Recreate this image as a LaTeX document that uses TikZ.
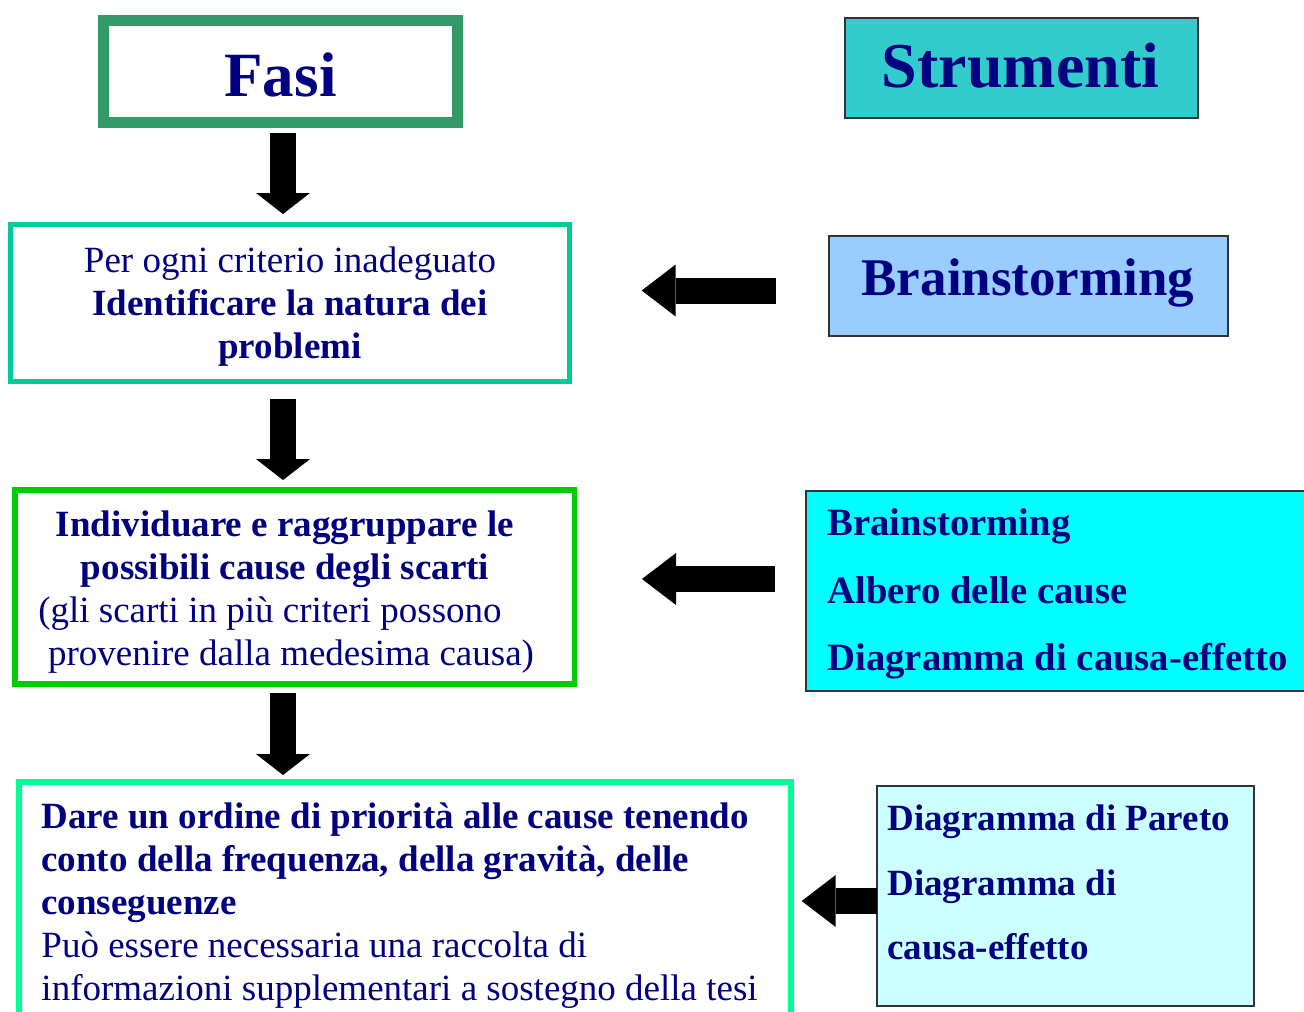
\documentclass[tikz,border=0pt]{standalone}
\usepackage{fontspec}
\setmainfont{Liberation Serif}
\usetikzlibrary{arrows.meta,calc}
\definecolor{navytext}{HTML}{000080}
\definecolor{fasigreen}{HTML}{339966}
\definecolor{critgreen}{HTML}{00CC99}
\definecolor{indivgreen}{HTML}{00CC00}
\definecolor{priogreen}{HTML}{00FF99}
\definecolor{strumfill}{HTML}{33CCCC}
\definecolor{brainfill}{HTML}{99CCFF}
\definecolor{toolsfill}{HTML}{00FFFF}
\definecolor{paretofill}{HTML}{CCFFFF}
\definecolor{thinborder}{HTML}{333333}
\newcommand\txtmed{\fontsize{37}{43}\selectfont}
\begin{document}
\begin{tikzpicture}[x=1pt,y=-1pt,
  box/.style={rectangle, inner sep=0pt, outer sep=0pt},
  thickbox/.style={box, line width=5.5pt},
  thinbox/.style={box, draw=thinborder, line width=2pt},
  txt/.style={text=navytext, inner sep=0pt, outer sep=0pt},
  downarrow/.style={line width=26pt, -{Triangle[width=54pt,length=21pt,line width=0pt]}},
  leftarrow/.style={line width=26pt, -{Triangle[width=52pt,length=34pt,line width=0pt]}}]
\useasboundingbox (0,0) rectangle (1304,1012);
\clip (0,0) rectangle (1304,1012);
\fill[white] (0,0) rectangle (1304,1012);

% boxes
\node[box, draw=fasigreen, line width=11pt, minimum width=354pt, minimum height=102pt] (fasi) at (280.5,71.5) {};
\node[thinbox, fill=strumfill, minimum width=353pt, minimum height=100pt] (strum) at (1021.5,68) {};
\node[thinbox, fill=brainfill, minimum width=399pt, minimum height=100pt] (brain) at (1028.5,286) {};
\node[thickbox, draw=critgreen, minimum width=559pt, minimum height=157pt] (crit) at (290,303) {};
\node[thickbox, draw=indivgreen, minimum width=559.5pt, minimum height=194.3pt] (indiv) at (294.5,586.9) {};
\node[thinbox, fill=toolsfill, minimum width=514pt, minimum height=199.5pt] (tools) at (1063,590.75) {};
\node[thickbox, draw=priogreen, line width=6pt, minimum width=772.3pt, minimum height=248pt] (prio) at (404.85,906) {};
\node[thinbox, fill=paretofill, minimum width=377pt, minimum height=220.3pt] (pareto) at (1065.5,896.2) {};

% texts
\node[txt, anchor=base, font=\fontsize{63}{63}\selectfont\bfseries] (fasiT) at (280.5,96.7) {Fasi};
\node[txt, anchor=base, font=\fontsize{64}{64}\selectfont\bfseries] (strumT) at (1020.5,87.3) {Strumenti};
\node[txt, anchor=base, font=\fontsize{53}{53}\selectfont\bfseries] (brainT) at (1028,295.5) {Brainstorming};
\node[txt, align=center, font=\txtmed] (critT) at (290,306.3)
  {Per ogni criterio inadeguato\\\textbf{Identificare la natura dei}\\\textbf{problemi}};
\node[txt, align=center, font=\txtmed] (indivT) at (285,592)
  {\textbf{Individuare e raggruppare le}\\\textbf{possibili cause degli scarti}\\(gli scarti in più criteri possono\hspace*{30pt}\mbox{}\\\hspace*{12pt}provenire dalla medesima causa)};
\node[txt, anchor=north west, align=left, font=\fontsize{38.7}{67.5}\selectfont\bfseries] (toolsT) at (827.5,509)
  {Brainstorming\\Albero delle cause\\Diagramma di causa-effetto};
\node[txt, anchor=north west, align=left, font=\txtmed] (prioT) at (41.5,803)
  {\textbf{Dare un ordine di priorità alle cause tenendo}\\\textbf{conto della frequenza, della gravità, delle}\\\textbf{conseguenze}\\Può essere necessaria una raccolta di\\informazioni supplementari a sostegno della tesi};
\node[txt, anchor=north west, align=left, font=\fontsize{37}{64.5}\selectfont\bfseries] (paretoT) at (887.3,805)
  {Diagramma di Pareto\\Diagramma di\\causa-effetto};

% arrow anchor points
\coordinate (v1s) at ($(fasi.south)+(2.5,10.5)$);
\coordinate (v2s) at ($(crit.south)+(-7,17)$);
\coordinate (v3s) at ($(indiv.south)+(-11.5,9)$);
\coordinate (h1s) at ($(brain.west)+(-53.3,4.5)$);
\coordinate (h2s) at ($(tools.west)+(-31,-11.75)$);
\coordinate (h3s) at ($(pareto.west)+(0,4.8)$);

% arrows
\draw[downarrow] (v1s) -- ($(v1s |- crit.north)+(0,-10.5)$);
\draw[downarrow] (v2s) -- ($(v2s |- indiv.north)+(0,-9.7)$);
\draw[downarrow] (v3s) -- ($(v3s |- prio.north)+(0,-7)$);
\draw[leftarrow] (h1s) -- ($(h1s -| crit.east)+(72.2,0)$);
\draw[leftarrow] (h2s) -- ($(h2s -| indiv.east)+(67.75,0)$);
\draw[leftarrow] (h3s) -- ($(h3s -| prio.east)+(10.7,0)$);
\end{tikzpicture}
\end{document}
